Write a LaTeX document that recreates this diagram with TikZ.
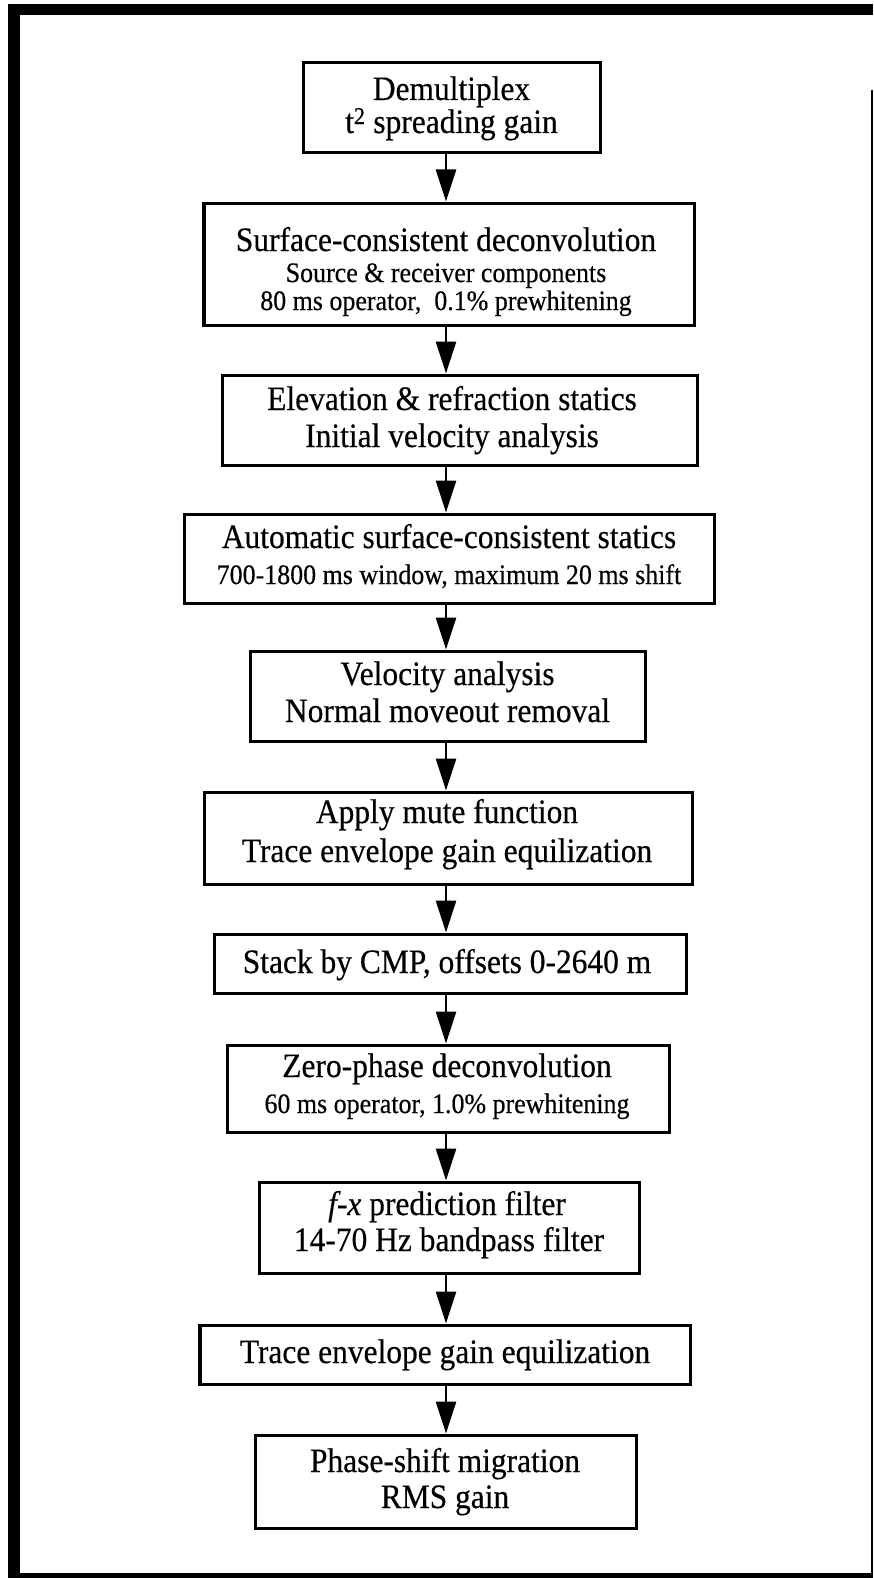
\documentclass[tikz,border=0pt]{standalone}
\usepackage{fontspec}
\setmainfont{Liberation Serif}[FakeStretch=0.92,FakeBold=0.4]
\usetikzlibrary{arrows.meta}
\newcommand\bigsz{\fontsize{34.2bp}{40bp}\selectfont}
\newcommand\smsz{\fontsize{28.2bp}{33bp}\selectfont}
\begin{document}
\begin{tikzpicture}[x=1bp,y=-1bp,
  stepbox/.style={draw, line width=3bp, inner sep=0pt, fill=white},
  txt/.style={anchor=base, inner sep=0pt},
  big/.style={txt, font=\bigsz},
  small/.style={txt, font=\smsz},
  arr/.style={line width=2.8bp, -{Triangle[width=20bp,length=32bp]}}]
\useasboundingbox (0,0) rectangle (873,1578);
% outer frame
\fill (8,4) rectangle (873,15);
\fill (8,4) rectangle (20,1578);
\fill (8,1573) rectangle (873,1578);
\draw[line width=1.5bp] (872,90) -- (872,1578);
\coordinate (ax) at (446,0);
% boxes
\node[stepbox, minimum width=297bp, minimum height=89bp]  (b1)  at (451.5,107.5) {};
\node[stepbox, minimum width=490bp, minimum height=122bp] (b2)  at (449,264) {};
\node[stepbox, minimum width=475bp, minimum height=90bp]  (b3)  at (460,420) {};
\node[stepbox, minimum width=529bp, minimum height=89bp]  (b4)  at (449.5,558.5) {};
\node[stepbox, minimum width=395bp, minimum height=90bp]  (b5)  at (447.5,696) {};
\node[stepbox, minimum width=488bp, minimum height=92bp]  (b6)  at (448,838) {};
\node[stepbox, minimum width=472bp, minimum height=59bp]  (b7)  at (450,963.5) {};
\node[stepbox, minimum width=442bp, minimum height=87bp]  (b8)  at (448,1088.5) {};
\node[stepbox, minimum width=380bp, minimum height=91bp]  (b9)  at (449,1227.5) {};
\node[stepbox, minimum width=490bp, minimum height=59bp]  (b10) at (445,1354.5) {};
\node[stepbox, minimum width=381bp, minimum height=93bp]  (b11) at (445.5,1481.5) {};
% texts
\node[big] (t1a) at (451.5,100) {Demultiplex};
\node[big] (t1b) at (451.5,133) {t\textsuperscript{2} spreading gain};
\node[big] (t2a) at (446,251) {Surface-consistent deconvolution};
\node[small] (t2b) at (446,282) {Source \& receiver components};
\node[small] (t2c) at (446,310) {80 ms operator,\ \ 0.1\% prewhitening};
\node[big] (t3a) at (452,410) {Elevation \& refraction statics};
\node[big] (t3b) at (452,447) {Initial velocity analysis};
\node[big] (t4a) at (449,548) {Automatic surface-consistent statics};
\node[small] (t4b) at (449,584) {700-1800 ms window, maximum 20 ms shift};
\node[big] (t5a) at (447.5,685) {Velocity analysis};
\node[big] (t5b) at (447.5,722) {Normal moveout removal};
\node[big] (t6a) at (447,823) {Apply mute function};
\node[big] (t6b) at (447,862) {Trace envelope gain equilization};
\node[big] (t7a) at (447,973) {Stack by CMP, offsets 0-2640 m};
\node[big] (t8a) at (447,1077) {Zero-phase deconvolution};
\node[small] (t8b) at (447,1113) {60 ms operator, 1.0\% prewhitening};
\node[big] (t9a) at (447,1215) {\textit{f-x} prediction filter};
\node[big] (t9b) at (449,1251) {14-70 Hz bandpass filter};
\node[big] (t10a) at (445,1363) {Trace envelope gain equilization};
\node[big] (t11a) at (445,1472) {Phase-shift migration};
\node[big] (t11b) at (445,1508) {RMS gain};
% arrows
\draw[arr] (b1.south -| ax) -- (b2.north -| ax);
\draw[arr] (b2.south -| ax) -- (b3.north -| ax);
\draw[arr] (b3.south -| ax) -- (b4.north -| ax);
\draw[arr] (b4.south -| ax) -- (b5.north -| ax);
\draw[arr] (b5.south -| ax) -- (b6.north -| ax);
\draw[arr] (b6.south -| ax) -- (b7.north -| ax);
\draw[arr] (b7.south -| ax) -- (b8.north -| ax);
\draw[arr] (b8.south -| ax) -- (b9.north -| ax);
\draw[arr] (b9.south -| ax) -- (b10.north -| ax);
\draw[arr] (b10.south -| ax) -- (b11.north -| ax);
\end{tikzpicture}
\end{document}
